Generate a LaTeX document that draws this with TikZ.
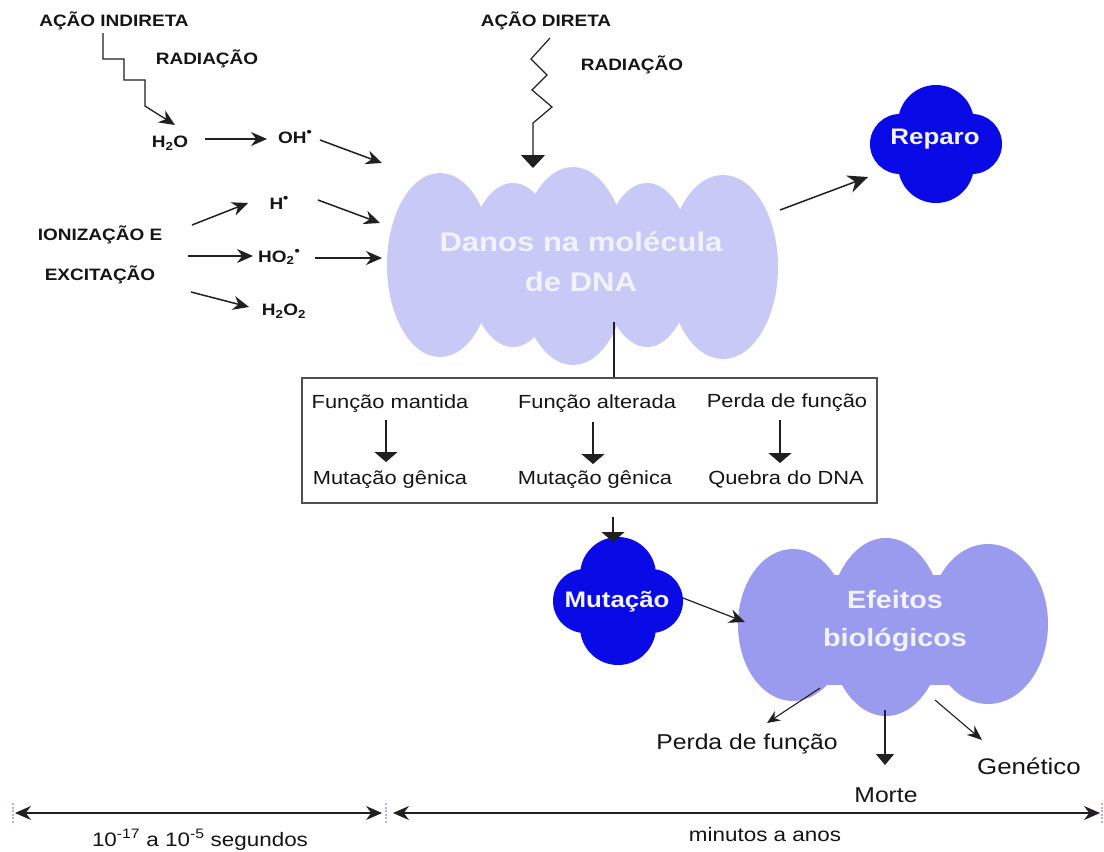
\documentclass[tikz,border=0pt]{standalone}
\usepackage{fontspec}
\setmainfont{Liberation Sans}[FakeStretch=1.15]
\usetikzlibrary{arrows.meta}

\definecolor{ink}{HTML}{151515}
\definecolor{wire}{HTML}{202020}
\definecolor{boxline}{HTML}{505050}
\definecolor{lavender}{HTML}{C9C9F8}
\definecolor{periwinkle}{HTML}{9A9AEE}
\definecolor{royal}{HTML}{0A0AE6}
\definecolor{cloudtext}{HTML}{F2F2FA}
\definecolor{handle}{HTML}{C8A8E8}

% radical dot placed as a raised bullet
\newcommand{\raddot}{\raisebox{0.42em}{\fontsize{13}{13}\selectfont\textbullet}}

\tikzset{
  caps/.style={font=\fontsize{16.5}{18}\selectfont\bfseries, text=ink, inner sep=0pt},
  chem/.style={font=\fontsize{16.5}{18}\selectfont\bfseries, text=ink, inner sep=0pt},
  boxtxt/.style={font=\fontsize{19}{21}\selectfont, text=ink, inner sep=0pt},
  outtxt/.style={font=\fontsize{21.5}{24}\selectfont, text=ink, inner sep=0pt},
  timetxt/.style={font=\fontsize{19.5}{22}\selectfont, text=ink, inner sep=0pt},
  cloudlbl/.style={font=\fontsize{27}{40}\selectfont\bfseries, text=cloudtext, align=center, inner sep=0pt},
  bluelbl/.style={font=\fontsize{22.5}{26}\selectfont\bfseries, text=cloudtext, inner sep=0pt},
  arr/.style={draw=wire, line width=1.5pt, -{Stealth[length=16pt,width=14pt]}},
  bigarr/.style={draw=wire, line width=1.5pt, -{Stealth[length=20pt,width=18pt]}},
  thinarr/.style={draw=wire, line width=1.1pt, -{Stealth[length=13pt,width=11pt]}},
  flatarr/.style={draw=wire, line width=1.4pt, -{Triangle[length=10pt,width=23pt]}},
  wave/.style={draw=wire, line width=1.3pt},
  span/.style={draw=wire, line width=1.5pt, {Stealth[length=16pt,width=14pt]}-{Stealth[length=16pt,width=14pt]}},
  tick/.style={draw=handle, line width=1.5pt, dash pattern=on 2pt off 1.5pt}
}

\begin{document}
\begin{tikzpicture}[x=1pt,y=-1pt]
\useasboundingbox (0,0) rectangle (1104,852);
\fill[white] (0,0) rectangle (1104,852);

% ---------- clouds ----------
% DNA damage cloud
\begin{scope}[fill=lavender]
  \fill (440,265) ellipse [x radius=53pt, y radius=92pt];
  \fill (513,265) ellipse [x radius=45pt, y radius=82pt];
  \fill (573,266) ellipse [x radius=55pt, y radius=99pt];
  \fill (647,265) ellipse [x radius=45pt, y radius=82pt];
  \fill (723,267) ellipse [x radius=55pt, y radius=92pt];
  \fill (420,220) rectangle (760,320);
\end{scope}
\node[cloudlbl] (dna) at (581,262) {Danos na molécula\\de DNA};

% biological effects cloud
\begin{scope}[fill=periwinkle]
  \fill (793,625) ellipse [x radius=55pt, y radius=76pt];
  \fill (886,627) ellipse [x radius=58pt, y radius=89pt];
  \fill (988,624) ellipse [x radius=60pt, y radius=80pt];
  \fill (780,575) rectangle (1020,685);
\end{scope}
\node[cloudlbl, font=\fontsize{25}{38}\selectfont\bfseries] (efeitos) at (895,621) {Efeitos\\biológicos};

% repair blob
\begin{scope}[fill=royal]
  \fill (936,123) circle [radius=38pt];
  \fill (936,165) circle [radius=38pt];
  \fill (900,144) circle [radius=30pt];
  \fill (972,144) circle [radius=30pt];
  \fill (905,120) rectangle (967,168);
\end{scope}
\node[bluelbl] (reparo) at (935,139) {Reparo};

% mutation blob
\begin{scope}[fill=royal]
  \fill (618,575) circle [radius=38pt];
  \fill (618,627) circle [radius=38pt];
  \fill (585,601) circle [radius=32pt];
  \fill (651,601) circle [radius=32pt];
  \fill (590,572) rectangle (646,630);
\end{scope}
\node[bluelbl] (mutacao) at (617,602) {Mutação};

% ---------- indirect action ----------
\node[caps] (indireta) at (114,21) {AÇÃO INDIRETA};
\node[caps] (radInd) at (207,59) {RADIAÇÃO};
\node[chem] (h2o) at (170,143) {H\textsubscript{2}O};
\node[chem] (oh) at (295,137) {OH\raddot};
\node[chem] (h) at (279,203) {H\raddot};
\node[chem] (ho2) at (279,257) {HO\textsubscript{2}\raddot};
\node[chem] (h2o2) at (284,311) {H\textsubscript{2}O\textsubscript{2}};
\node[caps] (ioniz) at (100,235) {IONIZAÇÃO E};
\node[caps] (excit) at (100,275) {EXCITAÇÃO};

\coordinate (stairTop) at (103,33);
\coordinate (h2oIn) at (175,125);
\draw[wave, -{Stealth[length=16pt,width=14pt]}]
  (stairTop) -- (103,59) -- (124,59) -- (124,80) -- (145,80) -- (145,106) -- (h2oIn);

\coordinate (h2oOut) at (205,139);  \coordinate (ohIn) at (267,139);
\coordinate (ohOut) at (320,140);   \coordinate (dnaA) at (382,163);
\coordinate (ionA) at (192,225);    \coordinate (hIn) at (248,203);
\coordinate (hOut) at (318,200);    \coordinate (dnaB) at (380,223);
\coordinate (ionB) at (188,256);    \coordinate (ho2In) at (253,256);
\coordinate (ho2Out) at (315,258);  \coordinate (dnaC) at (382,258);
\coordinate (ionC) at (191,292);    \coordinate (h2o2In) at (249,307);

\draw[arr] (h2oOut) -- (ohIn);
\draw[arr] (ohOut) -- (dnaA);
\draw[arr] (ionA) -- (hIn);
\draw[arr] (hOut) -- (dnaB);
\draw[arr] (ionB) -- (ho2In);
\draw[arr] (ho2Out) -- (dnaC);
\draw[arr] (ionC) -- (h2o2In);

% ---------- direct action ----------
\node[caps] (direta) at (546,21) {AÇÃO DIRETA};
\node[caps] (radDir) at (632,65) {RADIAÇÃO};
\coordinate (zzTop) at (550,38);
\coordinate (dnaTop) at (533,168);
\draw[wave, line width=1.2pt, -{Triangle[length=13pt,width=24pt]}]
  (zzTop) -- (531,59) -- (547,75) -- (532,90) -- (552,107) -- (533,123) -- (dnaTop);

% ---------- repair ----------
\coordinate (dnaE) at (780,210);
\coordinate (repIn) at (868,177);
\draw[bigarr] (dnaE) -- (repIn);

% ---------- outcome box ----------
\node[draw=boxline, line width=1.3pt, minimum width=575pt, minimum height=125pt, inner sep=0pt]
  (box) at (589.5,440.5) {};
\coordinate (dnaBot) at (614,322);
\draw[draw=wire, line width=1.4pt] (dnaBot) -- (dnaBot |- box.north);

\node[boxtxt] (fm) at (390,404) {Função mantida};
\node[boxtxt] (fa) at (597,404) {Função alterada};
\node[boxtxt] (pf) at (787,403) {Perda de função};
\node[boxtxt] (mg1) at (390,480) {Mutação gênica};
\node[boxtxt] (mg2) at (595,480) {Mutação gênica};
\node[boxtxt] (qd) at (786,479) {Quebra do DNA};

\draw[flatarr] (386,420) -- (386,462);
\draw[flatarr] (593,422) -- (593,464);
\draw[flatarr] (780,420) -- (780,463);

\coordinate (boxOut) at (613,517);
\coordinate (mutTop) at (613,542);
\draw[flatarr] (boxOut) -- (mutTop);

% ---------- mutation to effects ----------
\coordinate (mutE) at (683,598);
\coordinate (efW) at (745,622);
\draw[arr, line width=1.2pt] (mutE) -- (efW);

% ---------- biological outcomes ----------
\node[outtxt] (perda) at (747,744) {Perda de função};
\node[outtxt, font=\fontsize{22.5}{25}\selectfont] (genetico) at (1029,766) {Genético};
\node[outtxt] (morte) at (886,795) {Morte};

\coordinate (efSW) at (820,688);  \coordinate (perdaIn) at (767,723);
\coordinate (efS) at (885,710);   \coordinate (morteIn) at (885,765);
\coordinate (efSE) at (935,700);  \coordinate (genIn) at (982,740);
\draw[thinarr] (efSW) -- (perdaIn);
\draw[draw=wire, line width=1.2pt, -{Triangle[length=11pt,width=18pt]}] (efS) -- (morteIn);
\draw[thinarr, -{Stealth[length=15pt,width=12pt]}] (efSE) -- (genIn);

% ---------- time scale ----------
\coordinate (t1a) at (15,813);  \coordinate (t1b) at (382,813);
\coordinate (t2a) at (393,813); \coordinate (t2b) at (1100,813);
\draw[span] (t1a) -- (t1b);
\draw[span] (t2a) -- (t2b);
\draw[tick] (13,803) -- (13,823);
\draw[tick] (386,803) -- (386,823);
\draw[tick] (1102,803) -- (1102,823);

\node[timetxt] (fast) at (200,840) {10\textsuperscript{-17} a 10\textsuperscript{-5} segundos};
\node[timetxt] (slow) at (765,835) {minutos a anos};
\end{tikzpicture}
\end{document}
